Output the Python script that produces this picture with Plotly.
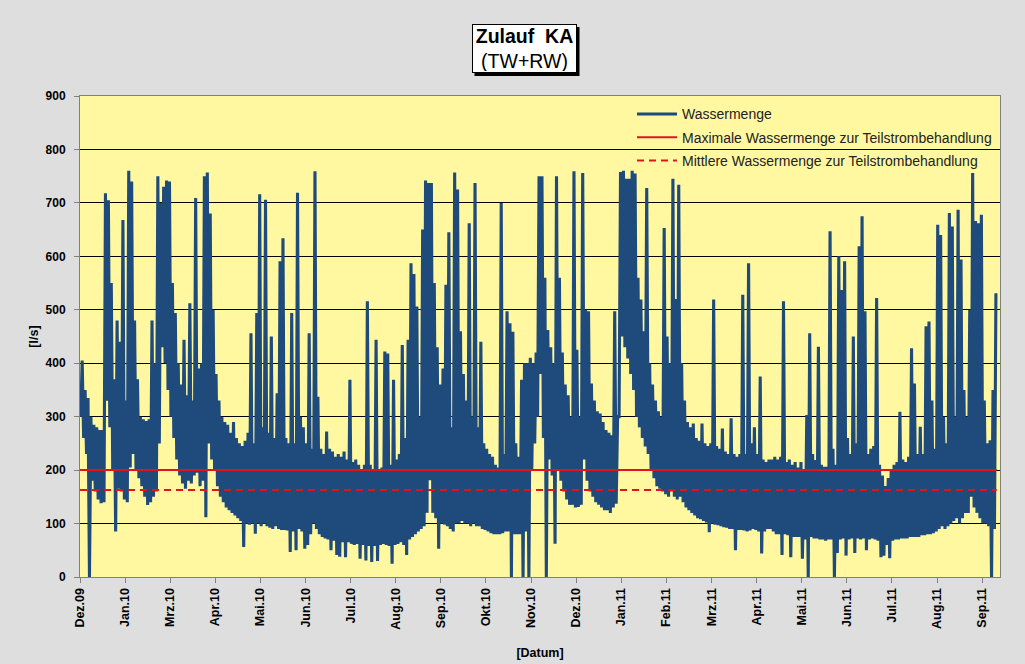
import pandas as pd
import plotly.graph_objects as go

# ---------------- data ----------------
# Start of the record; each entry below covers two days (lowest / highest flow).
START = "2009-12-30"

hi_vals = [
    405, 350, 335, 300, 285, 280, 275, 275, 718, 705,
    550, 370, 480, 440, 668, 330, 760, 740, 480, 370,
    300, 295, 292, 295, 480, 400, 750, 700, 730, 742,
    740, 550, 494, 400, 360, 444, 340, 512, 330, 709,
    390, 400, 750, 757, 680, 500, 380, 330, 300, 290,
    285, 270, 290, 260, 250, 245, 255, 270, 456, 250,
    494, 716, 280, 706, 270, 450, 260, 344, 591, 634,
    260, 250, 494, 250, 719, 300, 280, 250, 456, 240,
    759, 337, 240, 230, 272, 240, 235, 225, 230, 225,
    235, 220, 369, 215, 220, 210, 200, 210, 516, 210,
    200, 444, 200, 205, 422, 418, 210, 369, 220, 230,
    434, 260, 444, 587, 567, 506, 300, 650, 742, 737,
    737, 550, 430, 360, 390, 547, 645, 280, 757, 725,
    460, 380, 330, 662, 300, 737, 280, 440, 250, 240,
    230, 225, 210, 205, 700, 230, 497, 475, 459, 250,
    225, 369, 400, 400, 410, 400, 420, 750, 750, 560,
    462, 430, 400, 750, 560, 420, 360, 340, 300, 759,
    425, 300, 756, 500, 497, 362, 330, 310, 306, 290,
    275, 270, 265, 497, 300, 758, 760, 745, 745, 760,
    755, 560, 519, 460, 728, 400, 360, 330, 310, 300,
    653, 450, 400, 745, 520, 734, 400, 330, 290, 280,
    287, 260, 255, 287, 250, 245, 250, 519, 245, 240,
    278, 235, 230, 297, 230, 225, 230, 528, 230, 587,
    250, 280, 230, 375, 220, 215, 220, 220, 225, 220,
    225, 516, 215, 220, 210, 215, 205, 215, 200, 303,
    456, 230, 219, 431, 210, 206, 206, 647, 240, 210,
    600, 537, 591, 260, 230, 450, 250, 619, 675, 497,
    230, 240, 245, 522, 210, 190, 170, 185, 200, 210,
    215, 309, 220, 215, 225, 428, 362, 230, 281, 230,
    469, 478, 330, 240, 659, 640, 300, 250, 681, 656,
    300, 687, 594, 350, 300, 500, 756, 666, 662, 678,
    330, 250, 256, 350, 531,
]

lo_vals = [
    300, 260, 230, 0, 180, 160, 145, 138, 140, 330,
    280, 200, 85, 165, 160, 145, 140, 205, 230, 200,
    185, 170, 150, 135, 140, 150, 160, 250, 430, 400,
    350, 300, 260, 220, 190, 175, 165, 180, 175, 190,
    195, 170, 180, 112, 250, 220, 200, 170, 150, 140,
    130, 125, 120, 115, 110, 105, 56, 100, 98, 100,
    81, 100, 95, 100, 95, 92, 90, 95, 90, 88,
    88, 87, 47, 85, 50, 90, 85, 53, 60, 80,
    100, 90, 80, 75, 72, 70, 50, 68, 41, 38,
    65, 37, 65, 62, 60, 62, 34, 60, 31, 58,
    28, 58, 30, 60, 62, 60, 58, 25, 60, 62,
    65, 60, 41, 70, 75, 80, 85, 90, 95, 120,
    181, 120, 110, 53, 100, 98, 95, 90, 85, 100,
    100, 105, 100, 100, 95, 100, 95, 95, 90, 88,
    85, 82, 80, 80, 80, 82, 85, 85, 0, 80,
    80, 80, 0, 85, 0, 200, 250, 300, 380, 260,
    0, 220, 190, 62, 200, 180, 160, 145, 135, 135,
    130, 131, 135, 220, 180, 160, 150, 140, 135, 130,
    125, 125, 120, 130, 137, 300, 450, 430, 409, 380,
    350, 300, 280, 260, 244, 230, 200, 185, 170, 165,
    160, 155, 150, 160, 150, 145, 150, 140, 130, 125,
    120, 115, 110, 108, 105, 102, 84, 100, 98, 97,
    95, 93, 92, 90, 90, 50, 88, 88, 87, 85,
    87, 90, 88, 85, 44, 85, 90, 90, 85, 80,
    80, 41, 80, 78, 37, 75, 75, 75, 34, 70,
    0, 75, 72, 72, 70, 70, 68, 70, 70, 0,
    45, 70, 72, 40, 70, 72, 45, 72, 70, 72,
    50, 70, 72, 70, 68, 37, 40, 60, 35, 68,
    70, 70, 72, 72, 72, 75, 75, 75, 75, 78,
    78, 80, 80, 82, 85, 90, 95, 90, 95, 100,
    105, 110, 100, 110, 120, 120, 150, 130, 120, 110,
    100, 100, 95, 0, 90,
]

tick_labels = ["Dez.09", "Jan.10", "Mrz.10", "Apr.10", "Mai.10", "Jun.10",
               "Jul.10", "Aug.10", "Sep.10", "Okt.10", "Nov.10", "Dez.10",
               "Jan.11", "Feb.11", "Mrz.11", "Apr.11", "Mai.11", "Jun.11",
               "Jul.11", "Aug.11", "Sep.11"]

max_teilstrom = 200      # l/s
mittel_teilstrom = 163   # l/s

series_names = ["Wassermenge",
                "Maximale Wassermenge zur Teilstrombehandlung",
                "Mittlere Wassermenge zur Teilstrombehandlung"]

# ---------------- build traces ----------------
t0 = pd.Timestamp(START)
xs, ys = [], []
for i, (lo, hi) in enumerate(zip(lo_vals, hi_vals)):
    xs.append(t0 + pd.Timedelta(hours=24 * (2 * i) + 12))
    ys.append(lo)
    xs.append(t0 + pd.Timedelta(hours=24 * (2 * i) + 36))
    ys.append(hi)

t_end = t0 + pd.Timedelta(days=2 * len(hi_vals))
tickvals = [t0 + pd.Timedelta(days=31 * k) for k in range(len(tick_labels))]

FONT = "Arial, 'Liberation Sans', sans-serif"
BLUE = "#1F4A7C"
RED = "#E0141A"

fig = go.Figure()
fig.add_trace(go.Scatter(x=xs, y=ys, mode="lines", name=series_names[0],
                         line=dict(color=BLUE, width=3.1),
                         legendgroup="a"))
fig.add_trace(go.Scatter(x=[t0, t_end], y=[max_teilstrom, max_teilstrom],
                         mode="lines", name=series_names[1],
                         line=dict(color=RED, width=2), legendgroup="b"))
fig.add_trace(go.Scatter(x=[t0, t_end], y=[mittel_teilstrom, mittel_teilstrom],
                         mode="lines", name=series_names[2],
                         line=dict(color=RED, width=2, dash="7px,5px"),
                         legendgroup="c"))

# title box with drop shadow
fig.add_shape(type="rect", xref="paper", yref="paper",
              x0=(474.5 - 80) / 920, x1=(579.5 - 80) / 920,
              y0=(577 - 76) / 481, y1=(577 - 27) / 481,
              fillcolor="black", line=dict(width=0), layer="above")
fig.add_annotation(text="<b>Zulauf  KA</b><br>(TW+RW)",
                   font=dict(family=FONT, size=19.5, color="black"),
                   xref="paper", yref="paper",
                   x=(524 - 80) / 920, y=(577 - 48.5) / 481,
                   xanchor="center", yanchor="middle", showarrow=False,
                   width=101, height=45, borderpad=1, borderwidth=1,
                   bgcolor="white", bordercolor="black")

fig.update_layout(
    width=1025, height=664,
    margin=dict(l=80, r=25, t=96, b=87),
    paper_bgcolor="#DEDEDE",
    plot_bgcolor="#FFF8A0",
    font=dict(family=FONT, color="black"),
    showlegend=True,
    legend=dict(x=0.60, y=0.995, xanchor="left", yanchor="top",
                bgcolor="rgba(0,0,0,0)", font=dict(family=FONT, size=14, color="#222222"),
                tracegroupgap=2, itemwidth=40),
    xaxis=dict(type="date", range=[t0, t0 + pd.Timedelta(days=632.3)],
               tickmode="array", tickvals=tickvals, ticktext=tick_labels,
               tickangle=-90, tickfont=dict(family=FONT, size=12.5, weight="bold"),
               showgrid=False, ticks="outside", ticklen=5, tickcolor="#808080",
               showline=True, linecolor="#808080", linewidth=1, mirror=True,
               automargin=False,
               title=dict(text="[Datum]", font=dict(family=FONT, size=12.5, weight="bold"),
                          standoff=19)),
    yaxis=dict(range=[0, 900], tickmode="array", tickvals=list(range(0, 1000, 100)),
               tickfont=dict(family=FONT, size=12, weight="bold"),
               ticklabelstandoff=6, automargin=False,
               showgrid=True, gridcolor="#000000", gridwidth=1, zeroline=False,
               ticks="outside", ticklen=5, tickcolor="#808080",
               showline=True, linecolor="#808080", linewidth=1, mirror=True,
               title=dict(text="[l/s]", font=dict(family=FONT, size=12.5, weight="bold"),
                          standoff=4)),
)

fig.write_html("out.html", config={"displayModeBar": False},
               post_script="document.body.style.margin='0';document.body.style.overflow='hidden';")
